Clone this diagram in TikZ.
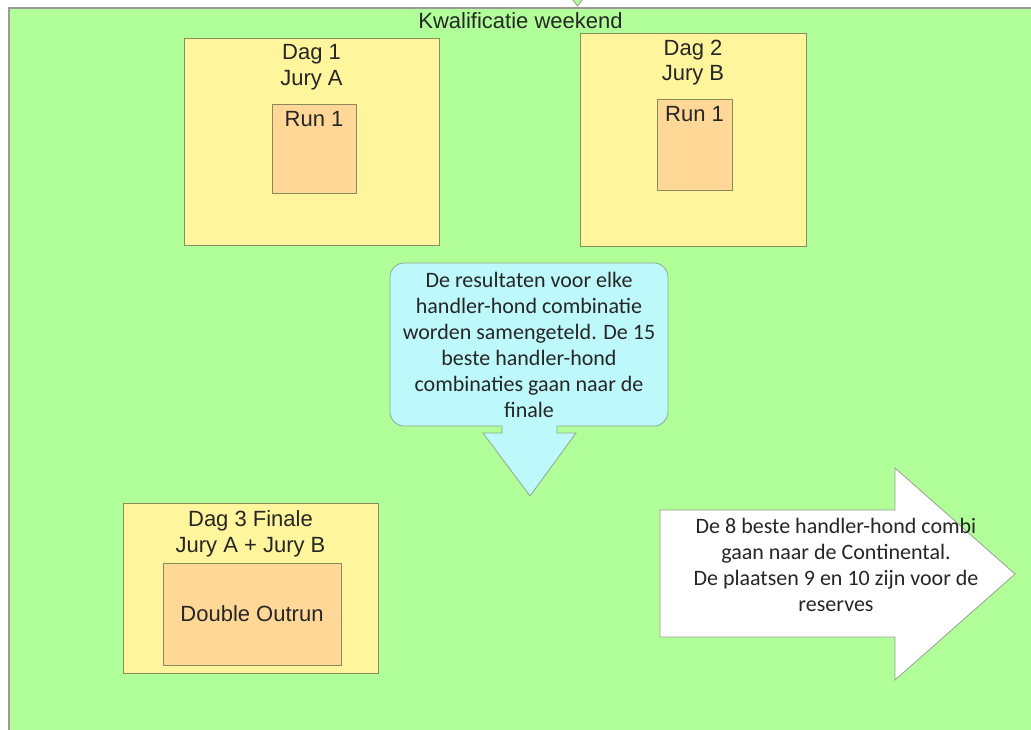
\documentclass[tikz,border=0pt]{standalone}
\usepackage{fontspec}
\setmainfont{Liberation Sans}
\newfontfamily\calibri{Carlito}
\usetikzlibrary{positioning}
\definecolor{weekendGreen}{HTML}{B0FF98}
\definecolor{dayYellow}{HTML}{FFF59C}
\definecolor{runOrange}{HTML}{FFD897}
\definecolor{noteCyan}{HTML}{BDF8FA}
\definecolor{frameGray}{HTML}{9C9C94}
\definecolor{boxBorder}{HTML}{8A8A60}
\definecolor{noteBorder}{HTML}{90A890}
\definecolor{textGray}{HTML}{262626}

\begin{document}
\begin{tikzpicture}
[x=1pt,y=-1pt,
  weekendDecorate/.style={shape=rectangle,draw=frameGray,line width=1.2pt,fill=weekendGreen,inner sep=0pt},%
  dayDecorate/.style={shape=rectangle,draw=boxBorder,line width=0.8pt,fill=dayYellow,inner sep=0pt},%
  runDecorate/.style={shape=rectangle,draw=boxBorder,line width=0.8pt,fill=runOrange,inner sep=0pt},%
  labelDecorate/.style={inner sep=0pt,align=center,text=textGray,font=\fontsize{22}{25.5}\selectfont},%
  noteDecorate/.style={inner sep=0pt,align=center,text=textGray,font=\calibri\fontsize{22}{26}\selectfont}]
\clip (0,0) rectangle (1031,729);
\fill[white] (0,0) rectangle (1031,729);
%% weekend frame
\node[weekendDecorate,minimum width=1023,minimum height=732] (weekend) at (520.5,374) {};
\draw[fill=weekendGreen,draw=frameGray,line width=0.8pt] (572,-1) -- (583,-1) -- (577.5,6) -- cycle;
\node[labelDecorate,below=5pt of weekend.north] (weekendTitle) {Kwalificatie weekend};
%% day and run boxes
\foreach \nodename/\x/\y/\w/\h in {dagA/311.5/141.5/255/207, dagB/693/139.5/226/213, dagC/250.5/588/255/170} {
  \node[dayDecorate,minimum width=\w,minimum height=\h] (\nodename) at (\x,\y) {};
}
\foreach \nodename/\x/\y/\w/\h in {runA/314/148.5/84/89, runB/694.5/144.5/75/91, runC/252/614/178/102} {
  \node[runDecorate,minimum width=\w,minimum height=\h] (\nodename) at (\x,\y) {};
}
\node[labelDecorate,below=7pt of dagA.north] (dagAText) {Dag 1\\Jury A};
\node[labelDecorate,below=7pt of dagB.north] (dagBText) {Dag 2\\Jury B};
\node[labelDecorate,below=8pt of dagC.north] (dagCText) {Dag 3 Finale\\Jury A + Jury B};
\node[labelDecorate,below=8pt of runA.north] (runAText) {Run 1};
\node[labelDecorate,below=8pt of runB.north] (runBText) {Run 1};
\node[labelDecorate] (runCText) at (runC) {Double Outrun};
%% callout with results
\draw[fill=noteCyan,draw=noteBorder,line width=0.8pt]
  (557,426) [rounded corners=14pt] -- (668,426) -- (668,263) -- (390,263) -- (390,426) [sharp corners]
  -- (502,426) -- (502,433) -- (483,433) -- (530,496) -- (576,433) -- (557,433) -- cycle;
\node[noteDecorate] (resultNote) at (529,345) {De resultaten voor elke\\handler-hond combinatie\\worden samengeteld. De 15\\beste handler-hond\\combinaties gaan naar de\\finale};
%% arrow to the Continental
\draw[fill=white,draw=frameGray,line width=0.8pt]
  (660,510) -- (895,510) -- (895,468) -- (1015,574) -- (895,680) -- (895,637) -- (660,637) -- cycle;
\node[noteDecorate] (continentalNote) at (836,565) {De 8 beste handler-hond combi\\gaan naar de Continental.\\De plaatsen 9 en 10 zijn voor de\\reserves};
\end{tikzpicture}
\end{document}
